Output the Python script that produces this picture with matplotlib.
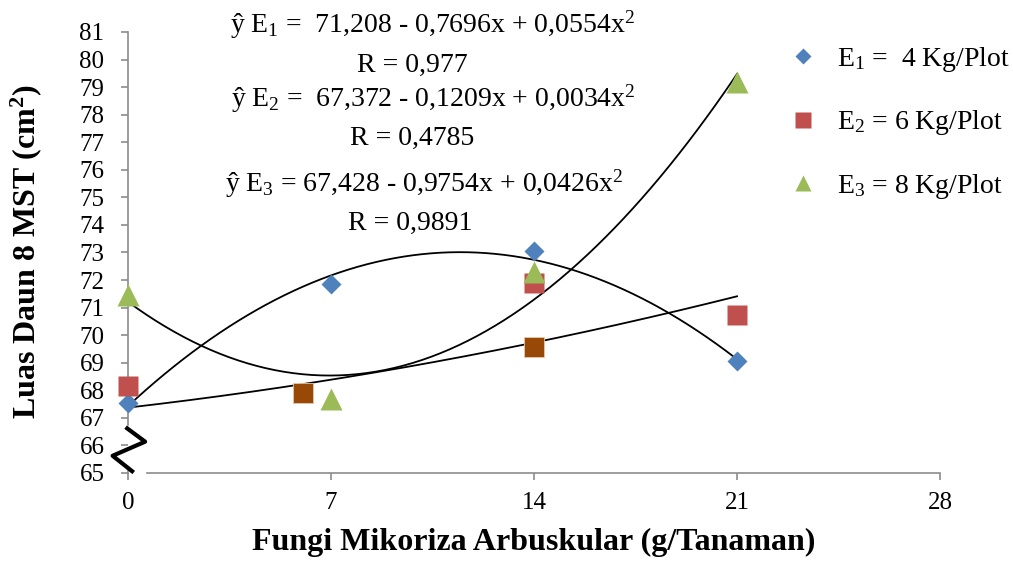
import numpy as np
import matplotlib.pyplot as plt
from matplotlib.lines import Line2D

SERIF = 'Liberation Serif'
plt.rcParams['font.family'] = 'serif'
plt.rcParams['font.serif'] = [SERIF, 'DejaVu Serif']
plt.rcParams['mathtext.fontset'] = 'custom'
plt.rcParams['mathtext.rm'] = SERIF
plt.rcParams['mathtext.it'] = SERIF + ':italic'
plt.rcParams['mathtext.bf'] = SERIF + ':bold'

# data
x_e1 = [0, 7, 14, 21]
y_e1 = [67.55, 71.85, 73.05, 69.05]
x_e2 = [0, 14, 21]
y_e2 = [68.15, 71.9, 70.72]
x_e2b = [6.05, 14]          # the darker squares
y_e2b = [67.9, 69.57]
x_e3 = [0, 7, 14, 21]
y_e3 = [71.45, 67.7, 72.3, 79.2]

# trendline coefficients (a, b, c) for a + b*x + c*x^2
coef_conv = [71.208, -0.7696, 0.0554]
coef_lin = [67.372, 0.1209, 0.0034]
coef_conc = [67.428, 0.9754, -0.0426]

labels = [r'E$_1$ =  4 Kg/Plot', r'E$_2$ = 6 Kg/Plot', r'E$_3$ = 8 Kg/Plot']
eq_text = [r'ŷ E$_1$ =  71,208 - 0,7696x + 0,0554x$^2$', 'R = 0,977',
           r'ŷ E$_2$ =  67,372 - 0,1209x + 0,0034x$^2$', 'R = 0,4785',
           r'ŷ E$_3$ = 67,428 - 0,9754x + 0,0426x$^2$', 'R = 0,9891']

blue = '#4F81BD'
red = '#C0504D'
green = '#9BBB59'
brown = '#984807'
gray = '#8C8C8C'

fig = plt.figure(figsize=(10.13, 5.63), dpi=100)
ax = fig.add_axes([0.1264, 0.1599, 0.8016, 0.7833])

xs = np.linspace(0, 21, 200)
for c in (coef_conv, coef_lin, coef_conc):
    ax.plot(xs, c[0] + c[1] * xs + c[2] * xs ** 2, color='black', lw=1.3, zorder=2)

h1, = ax.plot(x_e1, y_e1, 'D', color=blue, ms=10.5, mec='none', zorder=3, clip_on=False)
h2, = ax.plot(x_e2, y_e2, 's', color=red, ms=14.5, mec='none', zorder=3, clip_on=False)
ax.plot(x_e2b, y_e2b, 's', color=brown, ms=14.5, mec='#E8C8A8', mew=0.6, zorder=3)
h3, = ax.plot(x_e3, y_e3, '^', color=green, ms=15.5, mec='none', zorder=4, clip_on=False)

ax.set_xlim(0, 28)
ax.set_ylim(65, 81)
ax.set_xticks([0, 7, 14, 21, 28])
ax.set_yticks(range(65, 82))
ax.tick_params(axis='both', direction='out', length=5, width=1.2, color=gray,
               labelsize=18)
ax.tick_params(axis='x', pad=9)
ax.tick_params(axis='y', pad=12)

for s in ('top', 'right'):
    ax.spines[s].set_visible(False)
for s in ('left', 'bottom'):
    ax.spines[s].set_color(gray)
    ax.spines[s].set_linewidth(1.2)
ax.spines['left'].set_bounds(66.75, 81)
ax.spines['bottom'].set_bounds(0.65, 28)

# axis break mark
bx = [-0.001, 0.021, -0.019, 0.005]
by = [0.101, 0.071, 0.039, 0.004]
ax.add_line(Line2D(bx, by, transform=ax.transAxes, color='black', lw=3,
                   clip_on=False, zorder=5))
ax.add_line(Line2D([0, 0], [0, 0.004], transform=ax.transAxes, color=gray, lw=1.2,
                   clip_on=False))

ax.set_xlabel('Fungi Mikoriza Arbuskular (g/Tanaman)', fontsize=23,
              fontweight='bold', va='top')
ax.xaxis.set_label_coords(0.4994, -0.1247)
ax.set_ylabel(r'Luas Daun 8 MST (cm$^\mathbf{2}$)', fontsize=23,
              fontweight='bold')
ax.yaxis.set_label_coords(-0.1034, 0.502)

xpos = [433, 412, 433, 412, 424, 410]
ypos = [0.9414, 0.8721, 0.8099, 0.7425, 0.659, 0.5915]
for t, xx, yy in zip(eq_text, xpos, ypos):
    fig.text(xx / 1013, yy, t, ha='center', va='baseline', fontsize=20)

ax.legend([h1, h2, h3], labels, loc='upper left', bbox_to_anchor=(0.752, 0.965),
          bbox_transform=fig.transFigure, frameon=False, fontsize=20,
          labelspacing=1.25, handletextpad=0.6, markerscale=0.75, handlelength=1.2)

fig.savefig('out.png', dpi=100)
